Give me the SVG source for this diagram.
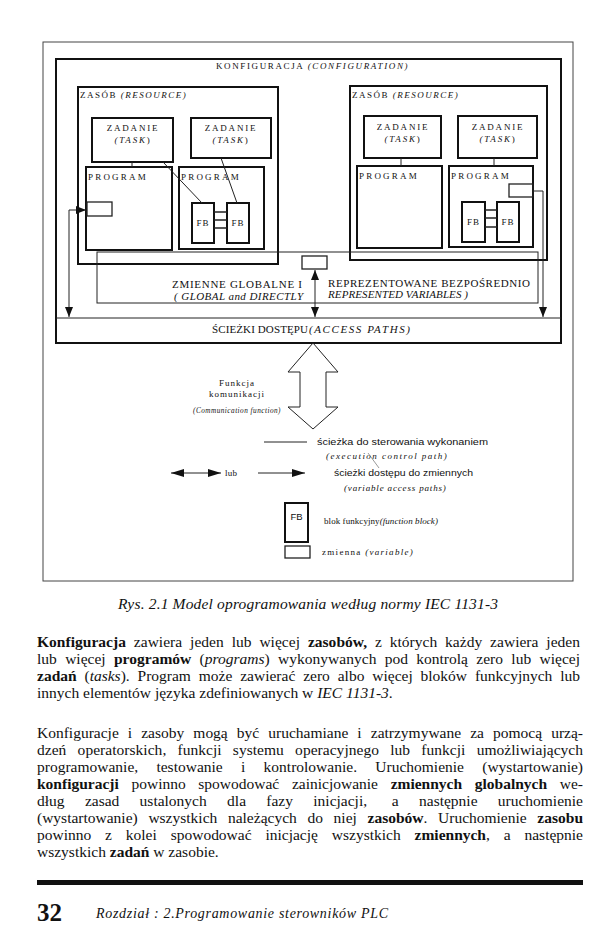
<svg xmlns="http://www.w3.org/2000/svg" width="612" height="936" viewBox="0 0 612 936">
<style>
.bg{fill:#fff}
.frame{fill:none;stroke:#444;stroke-width:1}
.box{fill:none;stroke:#111;stroke-width:2}
.box1{fill:none;stroke:#222;stroke-width:1.3}
.ln{fill:none;stroke:#222;stroke-width:1}
.lbl{font-family:"Liberation Serif","Times New Roman",serif;font-size:9px;letter-spacing:1.8px;fill:#111}
.lbl2{font-family:"Liberation Serif","Times New Roman",serif;font-size:11px;fill:#111}
.sans{font-family:"Liberation Sans",Arial,sans-serif;font-size:9.5px;fill:#111}
.it{font-style:italic}
.body{font-family:"Liberation Serif","Times New Roman",serif;font-size:15.5px;fill:#111}
.b{font-weight:bold}
</style>
<defs>
<marker id="ah" viewBox="0 0 10 8" refX="10" refY="4" markerWidth="10" markerHeight="8" orient="auto-start-reverse" markerUnits="userSpaceOnUse"><path d="M0,0 L10,4 L0,8 z" fill="#111"/></marker>
<marker id="ahL" viewBox="0 0 13 8" refX="13" refY="4" markerWidth="13" markerHeight="8" orient="auto-start-reverse" markerUnits="userSpaceOnUse"><path d="M0,0 L13,4 L0,8 z" fill="#111"/></marker>
</defs>
<rect class="bg" x="0" y="0" width="612" height="936"/>
<rect class="frame" x="43" y="42" width="530" height="539"/>

<g id="configuration">
<rect class="box" x="56" y="59" width="505" height="284"/>
<text class="lbl" x="216" y="69" textLength="193" lengthAdjust="spacing" style="letter-spacing:1.5px">KONFIGURACJA <tspan class="it">(CONFIGURATION)</tspan></text>
</g>

<g id="resource1">
<rect class="box" x="78" y="87" width="200" height="177"/>
<text class="lbl" x="80" y="98" style="letter-spacing:1.5px">ZASÓB <tspan class="it">(RESOURCE)</tspan></text>
</g>
<g id="task1">
<rect class="box" x="92" y="118" width="81" height="44"/>
<text class="lbl" x="133" y="131" text-anchor="middle">ZADANIE</text>
<text class="lbl" x="133" y="143" text-anchor="middle"><tspan class="it">(TASK</tspan>)</text>
</g>
<g id="task2">
<rect class="box" x="191" y="118" width="80" height="40"/>
<text class="lbl" x="231" y="131" text-anchor="middle">ZADANIE</text>
<text class="lbl" x="231" y="143" text-anchor="middle"><tspan class="it">(TASK</tspan>)</text>
</g>
<g id="program1">
<rect class="box" x="86" y="167" width="86" height="83"/>
<text class="lbl" x="88" y="180" style="letter-spacing:2.2px">PROGRAM</text>
<rect class="box1" x="87" y="202" width="25" height="14"/>
</g>
<g id="program2">
<rect class="box" x="179" y="167" width="85" height="82"/>
<text class="lbl" x="181" y="180" style="letter-spacing:2.2px">PROGRAM</text>
</g>
<g id="fb1">
<rect class="box" x="192" y="203" width="22" height="40"/>
<text class="lbl" x="203" y="226" text-anchor="middle" style="letter-spacing:1px">FB</text>
</g>
<g id="fb2">
<rect class="box" x="227" y="203" width="22" height="40"/>
<text class="lbl" x="238" y="226" text-anchor="middle" style="letter-spacing:1px">FB</text>
</g>

<g id="resource2">
<rect class="box" x="350" y="86" width="197" height="174"/>
<text class="lbl" x="352" y="98" style="letter-spacing:1.5px">ZASÓB  <tspan class="it">(RESOURCE)</tspan></text>
</g>
<g id="task3">
<rect class="box" x="364" y="116" width="77" height="42"/>
<text class="lbl" x="403" y="130" text-anchor="middle">ZADANIE</text>
<text class="lbl" x="403" y="142" text-anchor="middle"><tspan class="it">(TASK</tspan>)</text>
</g>
<g id="task4">
<rect class="box" x="458" y="116" width="79" height="42"/>
<text class="lbl" x="498" y="130" text-anchor="middle">ZADANIE</text>
<text class="lbl" x="498" y="142" text-anchor="middle"><tspan class="it">(TASK</tspan>)</text>
</g>
<g id="program3">
<rect class="box" x="357" y="166" width="85" height="82"/>
<text class="lbl" x="359" y="179" style="letter-spacing:2.2px">PROGRAM</text>
</g>
<g id="program4">
<rect class="box" x="449" y="166" width="84" height="81"/>
<text class="lbl" x="451" y="179" style="letter-spacing:2.2px">PROGRAM</text>
<rect class="box1" x="509" y="184" width="24" height="13"/>
</g>
<g id="fb3">
<rect class="box" x="462" y="202" width="23" height="40"/>
<text class="lbl" x="473.5" y="225" text-anchor="middle" style="letter-spacing:1px">FB</text>
</g>
<g id="fb4">
<rect class="box" x="497" y="202" width="22" height="40"/>
<text class="lbl" x="508" y="225" text-anchor="middle" style="letter-spacing:1px">FB</text>
</g>

<g id="global-variables">
<rect class="ln" x="97" y="252" width="441" height="51"/>
<rect class="box1" x="302" y="256" width="25" height="13"/>
<text class="lbl2" x="172" y="288" textLength="130" lengthAdjust="spacing">ZMIENNE GLOBALNE  I</text>
<text class="lbl2 it" x="174" y="300" textLength="129" lengthAdjust="spacing" font-size="10.5">( GLOBAL and DIRECTLY</text>
<text class="lbl2" x="328" y="287" textLength="202" lengthAdjust="spacing">REPREZENTOWANE BEZPOŚREDNIO</text>
<text class="lbl2 it" x="328" y="298" textLength="140" lengthAdjust="spacing" font-size="10.5">REPRESENTED VARIABLES )</text>
</g>

<g id="access-paths">
<line class="ln" x1="56" y1="318" x2="561" y2="318"/>
<text class="lbl2" x="212" y="333" textLength="96" lengthAdjust="spacing">ŚCIEŻKI DOSTĘPU</text>
<text class="lbl2 it" x="309" y="333" textLength="101" lengthAdjust="spacing" font-size="9.5">(ACCESS PATHS)</text>
</g>

<g id="connectors">
<line class="ln" x1="132" y1="162" x2="132" y2="167"/>
<line class="ln" x1="163" y1="162" x2="202" y2="203"/>
<line class="ln" x1="221" y1="158" x2="237" y2="203"/>
<line class="ln" x1="401" y1="158" x2="401" y2="166"/>
<line class="ln" x1="494" y1="158" x2="494" y2="166"/>
<path class="box1" d="M214,212 H227 M214,220 H227 M214,228 H227"/>
<path class="box1" d="M485,210 H497 M485,218 H497 M485,227 H497"/>
<path class="ln" d="M69,317 V210 H86" marker-start="url(#ah)" marker-end="url(#ah)"/>
<path class="ln" d="M315,270 V317" marker-start="url(#ah)" marker-end="url(#ah)"/>
<path class="ln" d="M533,191 H543 V317" marker-end="url(#ah)"/>
</g>

<g id="communication-function">
<polygon class="ln" fill="#fff" points="313,343 338,372 326,372 326,407 338,407 313,429 288,407 300,407 300,372 288,372"/>
<text class="lbl" x="237" y="386" text-anchor="middle" style="letter-spacing:1px">Funkcja</text>
<text class="lbl" x="237" y="397" text-anchor="middle" style="letter-spacing:1px">komunikacji</text>
<text class="lbl it" x="193" y="413" textLength="88" lengthAdjust="spacingAndGlyphs" style="letter-spacing:0.6px" font-size="8.5">(Communication function)</text>
</g>

<g id="legend">
<line class="ln" x1="264" y1="442" x2="307" y2="442"/>
<text class="sans" x="317" y="445" textLength="171" lengthAdjust="spacingAndGlyphs">ścieżka do sterowania wykonaniem</text>
<text class="lbl it" x="326" y="459" textLength="122" lengthAdjust="spacing" style="letter-spacing:1.2px">(execution control path)</text>
<line x1="368" y1="453" x2="379" y2="468" stroke="#555" stroke-width="0.6"/>
<path class="ln" d="M171,473 H221" marker-start="url(#ahL)" marker-end="url(#ahL)"/>
<text class="lbl" x="225" y="476" textLength="13" lengthAdjust="spacing" style="letter-spacing:1px">lub</text>
<path class="ln" d="M258,473 H305" marker-end="url(#ahL)"/>
<text class="sans" x="334" y="476" textLength="139" lengthAdjust="spacingAndGlyphs">ścieżki dostępu do zmiennych</text>
<text class="lbl it" x="344" y="491" textLength="103" lengthAdjust="spacing" style="letter-spacing:1.2px">(variable access paths)</text>
<rect class="box" x="285" y="503" width="23" height="39"/>
<text class="sans" x="296.5" y="520" text-anchor="middle" font-size="8.5">FB</text>
<text class="lbl" x="324" y="524" textLength="115" lengthAdjust="spacing" style="letter-spacing:1.1px">blok funkcyjny<tspan class="it">(function block)</tspan></text>
<rect class="box1" x="285" y="546" width="25" height="12"/>
<text class="lbl" x="322" y="555" textLength="92" lengthAdjust="spacing" style="letter-spacing:1.2px">zmienna  <tspan class="it">(variable)</tspan></text>
</g>

<g id="text">
<text class="body it" x="118" y="609" font-size="16" textLength="380" lengthAdjust="spacing">Rys. 2.1 Model oprogramowania według normy IEC 1131-3</text>

<text class="body" x="37" y="647" word-spacing="4" textLength="543" lengthAdjust="spacing"><tspan class="b">Konfiguracja</tspan> zawiera jeden lub więcej <tspan class="b">zasobów,</tspan> z których każdy zawiera jeden</text>
<text class="body" x="37" y="664" word-spacing="4.4" textLength="543" lengthAdjust="spacing">lub więcej <tspan class="b">programów</tspan> (<tspan class="it">programs</tspan>) wykonywanych pod kontrolą zero lub więcej</text>
<text class="body" x="37" y="681" word-spacing="4" textLength="543" lengthAdjust="spacing"><tspan class="b">zadań</tspan> (<tspan class="it">tasks</tspan>). Program może zawierać zero albo więcej bloków funkcyjnych lub</text>
<text class="body" x="37" y="698">innych elementów języka zdefiniowanych w <tspan class="it">IEC 1131-3</tspan>.</text>

<text class="body" x="37" y="738" word-spacing="5.2" textLength="546" lengthAdjust="spacing">Konfiguracje i zasoby mogą być uruchamiane i zatrzymywane za pomocą urzą-</text>
<text class="body" x="37" y="755" word-spacing="7.3" textLength="546" lengthAdjust="spacing">dzeń operatorskich, funkcji systemu operacyjnego lub funkcji umożliwiających</text>
<text class="body" x="37" y="772" word-spacing="14.4" textLength="546" lengthAdjust="spacing">programowanie, testowanie i kontrolowanie. Uruchomienie (wystartowanie)</text>
<text class="body" x="37" y="789" word-spacing="8.8" textLength="546" lengthAdjust="spacing"><tspan class="b">konfiguracji</tspan> powinno spowodować zainicjowanie <tspan class="b">zmiennych globalnych</tspan> we-</text>
<text class="body" y="806"><tspan x="37">dług</tspan><tspan x="84.9">zasad</tspan><tspan x="139.6">ustalonych</tspan><tspan x="227.1">dla</tspan><tspan x="266.3">fazy</tspan><tspan x="313.3">inicjacji,</tspan><tspan x="391.8">a</tspan><tspan x="419">następnie</tspan></text>
<text class="body" x="583" y="806" text-anchor="end">uruchomienie</text>
<text class="body" x="37" y="823" word-spacing="6.8" textLength="546" lengthAdjust="spacing">(wystartowanie) wszystkich należących do niej <tspan class="b">zasobów</tspan>. Uruchomienie <tspan class="b">zasobu</tspan></text>
<text class="body" x="37" y="840" word-spacing="10" textLength="546" lengthAdjust="spacing">powinno z kolei spowodować inicjację wszystkich <tspan class="b">zmiennych</tspan>, a następnie</text>
<text class="body" x="37" y="857">wszystkich <tspan class="b">zadań</tspan> w zasobie.</text>

<rect x="37" y="880" width="546" height="5" fill="#111"/>
<text x="37" y="921" font-family="Liberation Serif, serif" font-size="25" font-weight="bold" fill="#111">32</text>
<text x="96" y="918" font-family="Liberation Serif, serif" font-size="14" font-style="italic" fill="#111" textLength="292" lengthAdjust="spacing">Rozdział : 2.Programowanie sterowników PLC</text>
</g>
</svg>
